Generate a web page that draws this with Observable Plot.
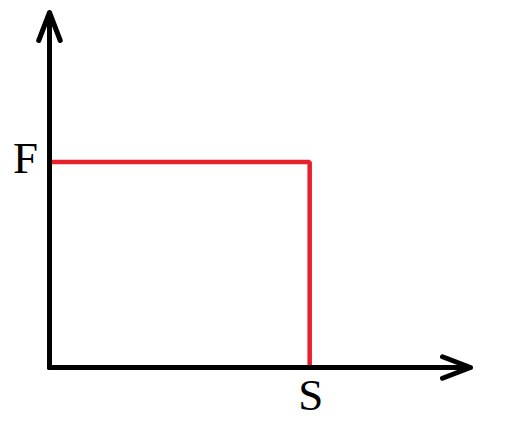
<!DOCTYPE html>
<html>
<head>
<meta charset="utf-8">
<script src="https://cdn.jsdelivr.net/npm/d3@7"></script>
<script src="https://cdn.jsdelivr.net/npm/@observablehq/plot@0.6"></script>
<style>
  html, body { margin: 0; padding: 0; background: #fff; }
  svg { display: block; }
</style>
</head>
<body>
<div id="chart"></div>
<script>
// Data (normalized axes: 0 = origin, 1 = arrow tip)
const axisMax = 1;
const sValue = 0.618;      // position of S on horizontal axis
const fValue = 0.579;      // level of F on vertical axis
const xLabel = "S";
const yLabel = "F";

const curve = [
  {x: 0, y: fValue},
  {x: sValue, y: fValue},
  {x: sValue, y: 0}
];
const axes = [
  {x1: 0, y1: 0, x2: axisMax, y2: 0},
  {x1: 0, y1: 0, x2: 0, y2: axisMax}
];

const chart = Plot.plot({
  width: 505,
  height: 445,
  margin: 0,
  style: {background: "#fff", fontFamily: "'Liberation Serif', serif"},
  x: {domain: [0, axisMax], range: [49, 470], axis: null},
  y: {domain: [0, axisMax], range: [367, 12], axis: null},
  marks: [
    Plot.line(curve, {x: "x", y: "y", stroke: "#e8202a", strokeWidth: 4.5, strokeLinejoin: "miter", strokeLinecap: "butt"}),
    Plot.arrow(axes, {
      x1: "x1", y1: "y1", x2: "x2", y2: "y2",
      stroke: "#000", strokeWidth: 5, headLength: 9, headAngle: 42
    }),
    Plot.text([{x: 0, y: fValue, t: yLabel}], {
      x: "x", y: "y", text: "t", dx: -24, dy: -3, fontSize: 45, fill: "#000",
      fontFamily: "'Liberation Serif', serif"
    }),
    Plot.text([{x: sValue, y: 0, t: xLabel}], {
      x: "x", y: "y", text: "t", dx: 1, dy: 28, fontSize: 45, fill: "#000",
      fontFamily: "'Liberation Serif', serif"
    })
  ]
});
document.getElementById("chart").appendChild(chart);
</script>
</body>
</html>
